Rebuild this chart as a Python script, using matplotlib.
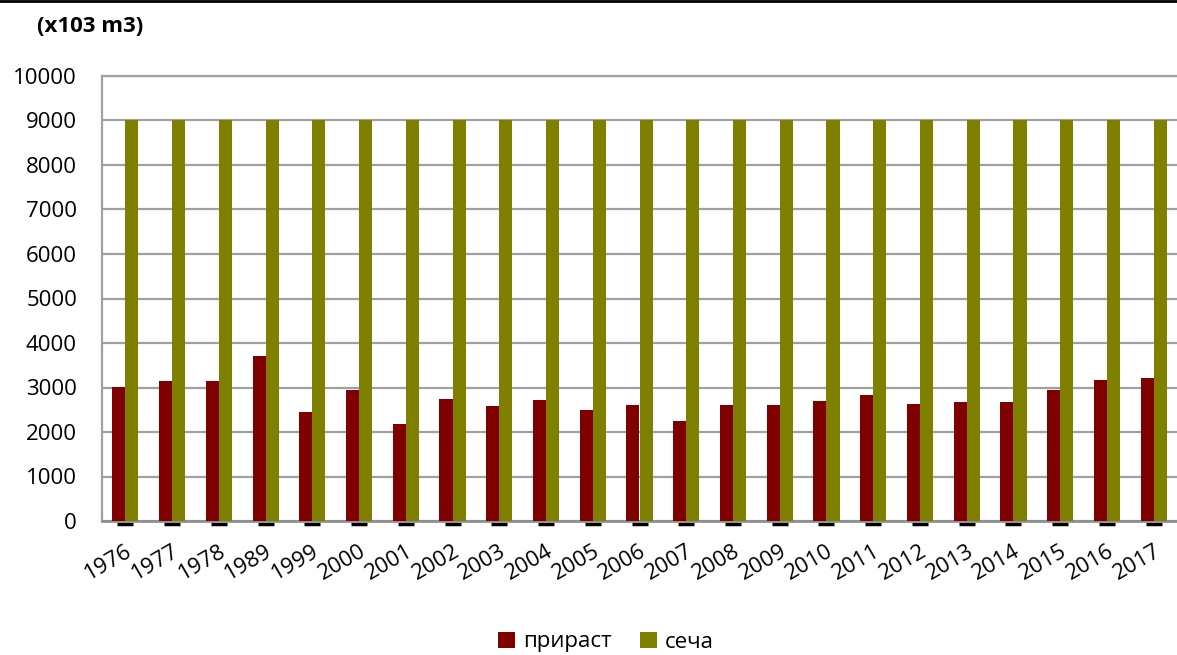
import matplotlib.pyplot as plt
import numpy as np

plt.rcParams['font.family'] = ['Open Sans', 'DejaVu Sans']

# data
years = ['1976', '1977', '1978', '1989', '1999', '2000', '2001', '2002', '2003',
         '2004', '2005', '2006', '2007', '2008', '2009', '2010', '2011', '2012',
         '2013', '2014', '2015', '2016', '2017']
prirast = [3020, 3150, 3150, 3710, 2460, 2950, 2190, 2740, 2590, 2710, 2490,
           2610, 2250, 2610, 2600, 2700, 2830, 2640, 2680, 2680, 2950, 3160, 3220]
secha = [9000] * 23
yticks = [0, 1000, 2000, 3000, 4000, 5000, 6000, 7000, 8000, 9000, 10000]

fig = plt.figure(figsize=(11.77, 6.55), dpi=100)
ax = fig.add_axes([102 / 1177, 1 - 521 / 655, 1 - 102 / 1177, (521 - 76) / 655])

x = np.arange(len(years))
w = 0.28
ax.bar(x - w / 2, prirast, w, color='#800000', label='прираст', zorder=3)
ax.bar(x + w / 2, secha, w, color='#808000', label='сеча', zorder=3)

# little black dashes under the axis
ax.plot(x, [-60] * len(x), ls='none', marker='_', markersize=12, mew=2.5,
        color='black', clip_on=False, zorder=1)

ax.set_xlim(-0.5, len(years) - 0.5)
ax.set_ylim(0, 10000)
ax.set_yticks(yticks)
ax.set_yticklabels([str(v) for v in yticks], fontsize=16)
ax.set_xticks(x)
ax.set_xticklabels(years, fontsize=16, rotation=30, ha='right',
                   rotation_mode='anchor')
ax.tick_params(axis='both', length=0)
ax.tick_params(axis='y', pad=18)
ax.tick_params(axis='x', pad=14)

ax.grid(axis='y', color='#A0A0A0', lw=1.6, zorder=0)
ax.set_axisbelow(True)
for s in ['left', 'top']:
    ax.spines[s].set_color('#A0A0A0')
    ax.spines[s].set_linewidth(1.6)
ax.spines['bottom'].set_color('#909090')
ax.spines['bottom'].set_linewidth(2)
ax.spines['right'].set_visible(False)

fig.text(37 / 1177, 1 - 27 / 655, '(x103 m3)', fontsize=16, fontweight='bold',
         va='center', ha='left')

# border line at the top of the picture
fig.add_artist(plt.Line2D([0, 1], [0.999, 0.999], color='black', lw=2,
                          transform=fig.transFigure))

fig.legend(loc='center', bbox_to_anchor=(0.515, 1 - 642 / 655), ncol=2,
           frameon=False, fontsize=16, handlelength=0.75, handleheight=0.75,
           handletextpad=0.35, columnspacing=1.3)

fig.savefig('out.png', dpi=100)
